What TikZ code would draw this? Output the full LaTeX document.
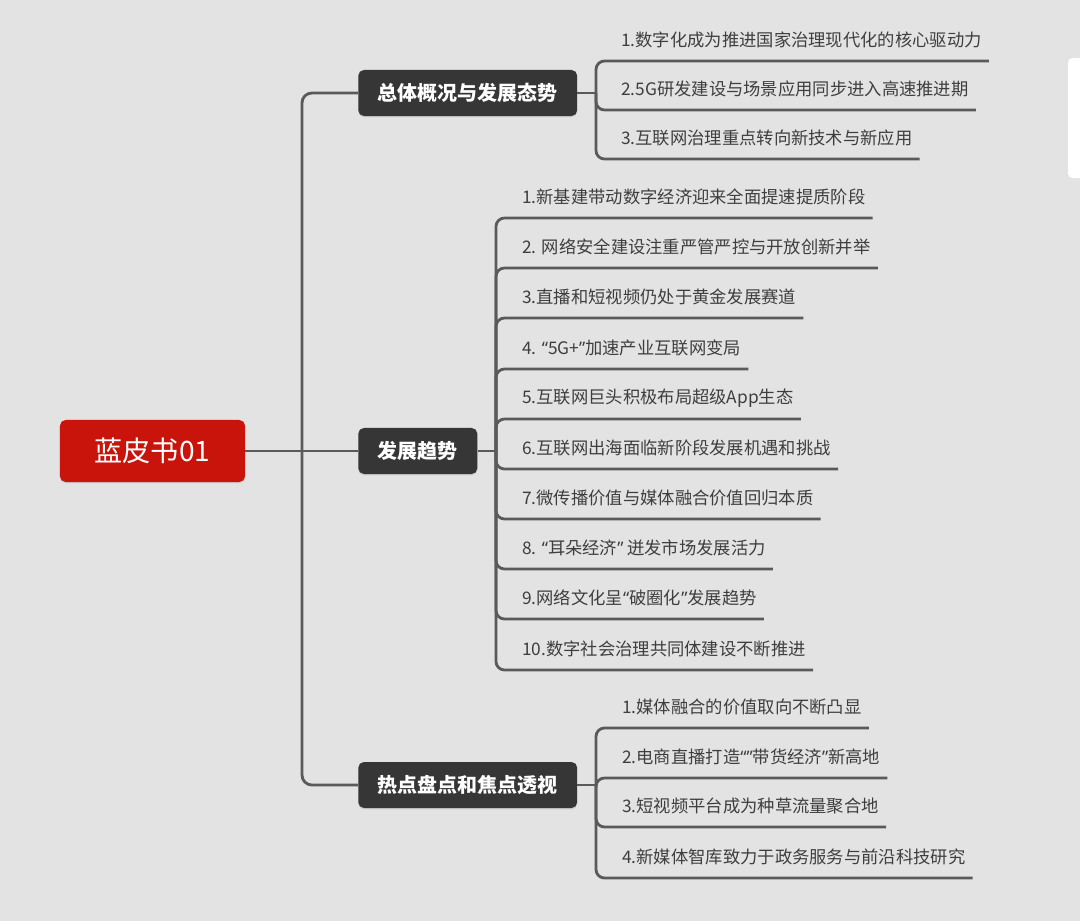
\documentclass[tikz,border=0pt]{standalone}
\usepackage{fontspec}
\setmainfont{Noto Sans CJK SC}
\newfontfamily\latinfont{Noto Sans}
\newcommand{\oq}{{\latinfont “}}
\newcommand{\cq}{{\latinfont ”}}
\usetikzlibrary{shadows}
\definecolor{bg}{HTML}{E3E3E3}
\definecolor{rootred}{HTML}{C8140A}
\definecolor{branchgrey}{HTML}{363636}
\definecolor{linegrey}{HTML}{5A5A5A}
\definecolor{itemtext}{HTML}{3E3E3E}
\begin{document}
\begin{tikzpicture}[
    x=0.025cm, y=-0.025cm,
    every node/.style={font=\fontsize{12.3}{14}\selectfont, text=itemtext},
    root/.style={rectangle, fill=rootred, rounded corners=4pt,
                 minimum width=4.625cm, minimum height=1.55cm, text=white,
                 font=\fontsize{20}{24}\selectfont,
                 drop shadow={shadow xshift=0pt, shadow yshift=-1pt, opacity=0.2}},
    branch/.style={rectangle, fill=branchgrey, rounded corners=4pt, anchor=west,
                   minimum height=1.15cm, inner xsep=0.49cm, text=white,
                   font=\fontsize{14.2}{17}\selectfont\bfseries,
                   drop shadow={shadow xshift=0pt, shadow yshift=-1pt, opacity=0.2}},
    leaf/.style={rectangle, anchor=south west, inner xsep=0.175cm, minimum height=1.05cm},
    link/.style={draw=linegrey, line width=2pt, rounded corners=6pt},
]
    \fill[bg] (0,0) rectangle (1080,921);
    \useasboundingbox (0,0) rectangle (1080,921);
    \fill[white, rounded corners=3pt] (1068,58) rectangle (1096,178);

    \node[root] (book) at (152.5,451) {蓝皮书01};
    \node[branch] (overview) at (358,93) {总体概况与发展态势};
    \node[branch] (trend) at (358,451) {发展趋势};
    \node[branch] (hot) at (358,785) {热点盘点和焦点透视};

    \coordinate (j0) at (302,451);
    \draw[link] (book.east) -- (trend.west);
    \draw[link, rounded corners=7pt] (j0) |- (overview.west);
    \draw[link, rounded corners=7pt] (j0) |- (hot.west);

    % overview
    \node[leaf] (over1) at (614,61) {1.数字化成为推进国家治理现代化的核心驱动力};
    \node[leaf] (over2) at (614,110) {2.5G研发建设与场景应用同步进入高速推进期};
    \node[leaf] (over3) at (614,159) {3.互联网治理重点转向新技术与新应用};
    \coordinate (j1) at (596,93);
    \draw[link] (overview.east) -- (j1);
    \draw[link] (j1) |- (over1.south west) -- (over1.south east);
    \draw[link] (j1) |- (over2.south west) -- (over2.south east);
    \draw[link] (j1) |- (over3.south west) -- (over3.south east);

    % trends
    \node[leaf] (trend1) at (515,218) {1.新基建带动数字经济迎来全面提速提质阶段};
    \node[leaf] (trend2) at (515,268) {2. 网络安全建设注重严管严控与开放创新并举};
    \node[leaf] (trend3) at (515,318) {3.直播和短视频仍处于黄金发展赛道};
    \node[leaf] (trend4) at (515,369) {4. \oq 5G+\cq 加速产业互联网变局};
    \node[leaf] (trend5) at (515,419) {5.互联网巨头积极布局超级App生态};
    \node[leaf] (trend6) at (515,469) {6.互联网出海面临新阶段发展机遇和挑战};
    \node[leaf] (trend7) at (515,519) {7.微传播价值与媒体融合价值回归本质};
    \node[leaf] (trend8) at (515,569) {8. \oq 耳朵经济\cq{} 迸发市场发展活力};
    \node[leaf] (trend9) at (515,619) {9.网络文化呈\oq 破圈化\cq 发展趋势};
    \node[leaf] (trend10) at (515,670) {10.数字社会治理共同体建设不断推进};
    \coordinate (j2) at (496,451);
    \draw[link] (trend.east) -- (j2);
    \draw[link] (j2) |- (trend1.south west) -- (trend1.south east);
    \draw[link] (j2) |- (trend2.south west) -- (trend2.south east);
    \draw[link] (j2) |- (trend3.south west) -- (trend3.south east);
    \draw[link] (j2) |- (trend4.south west) -- (trend4.south east);
    \draw[link] (j2) |- (trend5.south west) -- (trend5.south east);
    \draw[link] (j2) |- (trend6.south west) -- (trend6.south east);
    \draw[link] (j2) |- (trend7.south west) -- (trend7.south east);
    \draw[link] (j2) |- (trend8.south west) -- (trend8.south east);
    \draw[link] (j2) |- (trend9.south west) -- (trend9.south east);
    \draw[link] (j2) |- (trend10.south west) -- (trend10.south east);

    % hot spots
    \node[leaf] (hot1) at (615,728) {1.媒体融合的价值取向不断凸显};
    \node[leaf] (hot2) at (615,778) {2.电商直播打造\oq\cq 带货经济\cq 新高地};
    \node[leaf] (hot3) at (615,827) {3.短视频平台成为种草流量聚合地};
    \node[leaf] (hot4) at (615,878) {4.新媒体智库致力于政务服务与前沿科技研究};
    \coordinate (j3) at (596,785);
    \draw[link] (hot.east) -- (j3);
    \draw[link] (j3) |- (hot1.south west) -- (hot1.south east);
    \draw[link] (j3) |- (hot2.south west) -- (hot2.south east);
    \draw[link] (j3) |- (hot3.south west) -- (hot3.south east);
    \draw[link] (j3) |- (hot4.south west) -- (hot4.south east);
\end{tikzpicture}
\end{document}
